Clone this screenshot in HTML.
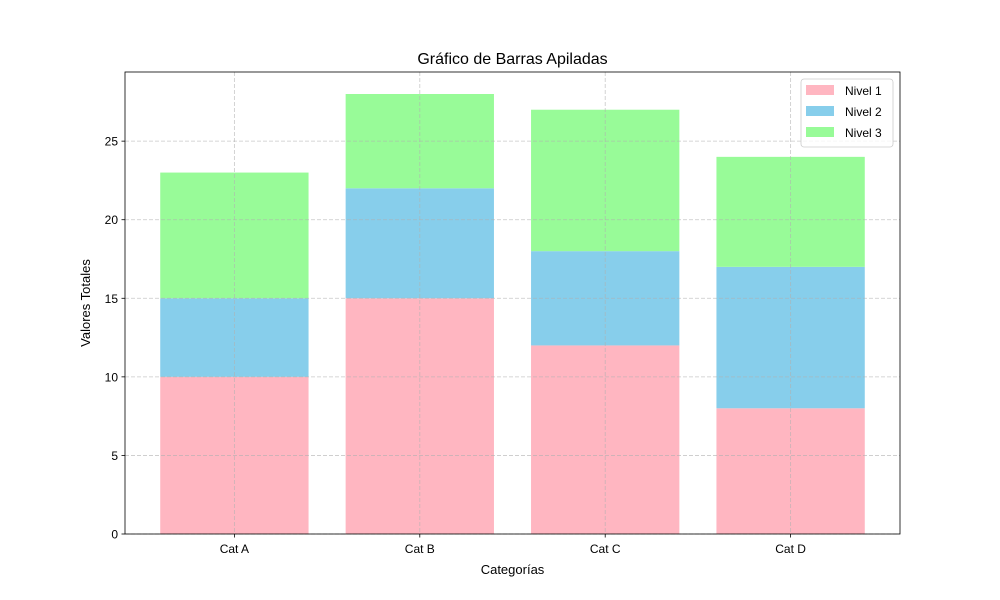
<!DOCTYPE html>
<html><head><meta charset="utf-8"><style>
html,body{margin:0;padding:0;background:#fff;}
svg{display:block;font-family:"Liberation Sans","DejaVu Sans",sans-serif;}
</style></head><body>
<svg id="chart" width="1000" height="600" viewBox="0 0 1000 600">
<rect x="0" y="0" width="1000" height="600" fill="#fff"/>
<g id="bars"></g>
<g id="grid"></g>
<g id="axes"></g>
<text x="512.5" y="64" text-anchor="middle" font-size="16" fill="#000">Gráfico de Barras Apiladas</text>
<text x="512.5" y="574" text-anchor="middle" font-size="13" fill="#000">Categorías</text>
<text x="90" y="303" text-anchor="middle" font-size="13" fill="#000" transform="rotate(-90 90 303)">Valores Totales</text>
<g id="legend"></g>
</svg>
<script>
const categories = ["Cat A","Cat B","Cat C","Cat D"];
const nivel1 = [10,15,12,8];
const nivel2 = [5,7,6,9];
const nivel3 = [8,6,9,7];
const seriesNames = ["Nivel 1","Nivel 2","Nivel 3"];
const yTicks = [0,5,10,15,20,25];

const NS="http://www.w3.org/2000/svg";
const L=125,R=900,T=72,B=534;
const series=[nivel1,nivel2,nivel3];
const colors=["#ffb6c1","#87ceeb","#98fb98"];
const totals=categories.map((c,i)=>series.reduce((s,a)=>s+a[i],0));
const yMax=Math.max(...totals)*1.05;
const xMin=-0.4-0.19*1, xMax=categories.length-1+0.4+0.19*1;
const xs=v=>L+(v-xMin)/(xMax-xMin)*(R-L);
const ys=v=>B-v/yMax*(B-T);
function mk(tag,attrs,parent,text){const e=document.createElementNS(NS,tag);for(const k in attrs)e.setAttribute(k,attrs[k]);if(text!==undefined)e.textContent=text;parent.appendChild(e);return e;}
const gb=document.getElementById('bars'),gg=document.getElementById('grid'),ga=document.getElementById('axes'),gl=document.getElementById('legend');
categories.forEach((c,i)=>{let base=0;series.forEach((s,j)=>{
 const r=mk('rect',{x:xs(i-0.4),y:ys(base+s[i]),width:xs(i+0.4)-xs(i-0.4),height:ys(base)-ys(base+s[i]),fill:colors[j]},gb);
 
 
 base+=s[i];});});
yTicks.forEach(t=>{const y=ys(t);
 const l=mk('line',{x1:L,x2:R,y1:y,y2:y,stroke:'#b0b0b0','stroke-width':0.8,'stroke-dasharray':'4,2','stroke-opacity':0.7},gg);
 
 mk('line',{x1:L-3.5,x2:L,y1:y,y2:y,stroke:'#000','stroke-width':0.8},ga);
 const tx=mk('text',{x:L-7,y:y+4.5,'text-anchor':'end','font-size':12,fill:'#000'},ga,String(t));
 });
categories.forEach((c,i)=>{const x=xs(i);
 const l=mk('line',{x1:x,x2:x,y1:T,y2:B,stroke:'#b0b0b0','stroke-width':0.8,'stroke-dasharray':'4,2','stroke-opacity':0.7},gg);
 
 mk('line',{x1:x,x2:x,y1:B,y2:B+3.5,stroke:'#000','stroke-width':0.8},ga);
 const tx=mk('text',{x:x,y:B+19,'text-anchor':'middle','font-size':12,fill:'#000'},ga,c);
 });
const fr=mk('rect',{x:L,y:T,width:R-L,height:B-T,fill:'none',stroke:'#000','stroke-width':0.8},ga);

const lb=mk('rect',{x:801,y:79,width:92,height:68,rx:3,fill:'#fff','fill-opacity':0.8,stroke:'#ccc','stroke-width':0.8},gl);

seriesNames.forEach((n,j)=>{const y=85+j*21;
 const g=mk('g',{},gl);
 
 mk('rect',{x:806,y:y,width:28,height:10,fill:colors[j]},g);
 mk('text',{x:845,y:y+10,'font-size':12,fill:'#000'},g,n);});
</script>
</body></html>
